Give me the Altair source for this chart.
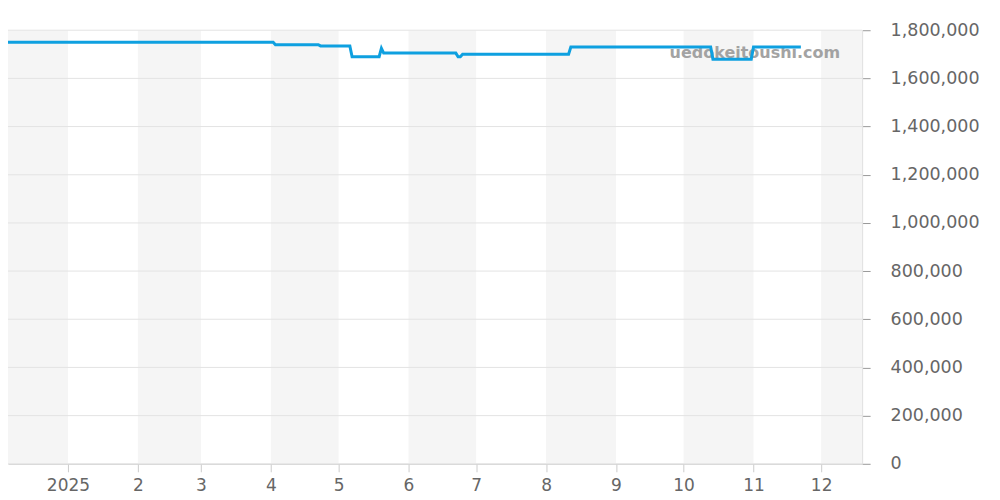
import altair as alt
import pandas as pd

# ---- data ----
dates = [
    "2024-12-03", "2025-04-02", "2025-04-03", "2025-04-22", "2025-04-23",
    "2025-05-06", "2025-05-07", "2025-05-19", "2025-05-20", "2025-05-21",
    "2025-06-22", "2025-06-23", "2025-06-24", "2025-06-25", "2025-08-11",
    "2025-08-12", "2025-10-13", "2025-10-14", "2025-10-31", "2025-11-01",
    "2025-11-22",
]
prices = [
    1750000, 1750000, 1740000, 1740000, 1735000,
    1735000, 1690000, 1690000, 1725000, 1705000,
    1705000, 1690000, 1690000, 1700000, 1700000,
    1730000, 1730000, 1680000, 1680000, 1730000,
    1730000,
]
band_starts = ["2024-12-01", "2025-02-01", "2025-04-01", "2025-06-01",
               "2025-08-01", "2025-10-01", "2025-12-01"]
band_ends = ["2025-01-01", "2025-03-01", "2025-05-01", "2025-07-01",
             "2025-09-01", "2025-11-01", "2026-01-01"]
tick_dates = ["2025-01-01", "2025-02-01", "2025-03-01", "2025-04-01",
              "2025-05-01", "2025-06-01", "2025-07-01", "2025-08-01",
              "2025-09-01", "2025-10-01", "2025-11-01", "2025-12-01"]
y_ticks = [0, 200000, 400000, 600000, 800000, 1000000, 1200000,
           1400000, 1600000, 1800000]
watermark = "uedokeitoushi.com"


def ms(s):
    return int(pd.Timestamp(s, tz="UTC").value // 10**6)


domain_x = [ms("2024-12-05 10:00"), ms("2025-12-19 04:00")]

df = pd.DataFrame({"date": dates, "price": prices})
bands = pd.DataFrame({"start": band_starts, "end": band_ends})

xscale = alt.Scale(type="utc", domain=domain_x, nice=False)
yscale = alt.Scale(domain=[0, 1800000], nice=False, zero=True)

FONT = "DejaVu Sans"

xaxis = alt.Axis(
    values=[ms(d) for d in tick_dates],
    labelExpr="utcmonth(datum.value) == 0 ? utcFormat(datum.value, '%Y') : (utcmonth(datum.value) + 1) + ''",
    title=None,
    grid=False,
    domainColor="#cccccc",
    tickColor="#cccccc",
    tickSize=8,
    labelColor="#666666",
    labelFontSize=17,
    labelFont=FONT,
    labelPadding=6,
    labelFlush=False,
)
yaxis = alt.Axis(
    orient="right",
    values=y_ticks,
    format=",d",
    title=None,
    grid=False,
    domainColor="#dddddd",
    tickColor="#999999",
    tickSize=8,
    labelColor="#666666",
    labelFontSize=17.5,
    labelFont=FONT,
    labelPadding=20,
)

band_layer = alt.Chart(bands).mark_rect(color="#f5f5f5", clip=True).encode(
    x=alt.X("start:T", scale=xscale, axis=xaxis),
    x2="end:T",
)

grid_layer = alt.Chart(pd.DataFrame({"v": y_ticks})).mark_rule(
    color="#e3e3e3", strokeWidth=1
).encode(y=alt.Y("v:Q", scale=yscale, axis=yaxis))

line_layer = alt.Chart(df).mark_line(
    color="#0ea0e0", strokeWidth=3, clip=True
).encode(
    x=alt.X("date:T", scale=xscale, axis=xaxis),
    y=alt.Y("price:Q", scale=yscale, axis=yaxis),
)

text_layer = alt.Chart(pd.DataFrame({"t": [watermark]})).mark_text(
    align="right", baseline="middle", fontSize=16, fontWeight="bold",
    font=FONT, color="#9a9a9a", opacity=0.9
).encode(text="t:N", x=alt.value(833), y=alt.value(23))

chart = alt.layer(band_layer, grid_layer, text_layer, line_layer).properties(
    width=855,
    height=434,
    padding={"left": 0, "top": 22, "right": 130, "bottom": 30},
    autosize=alt.AutoSizeParams(type="none"),
).configure_view(stroke=None)

chart.save("out.html", embed_options={"renderer": "svg", "actions": False})
